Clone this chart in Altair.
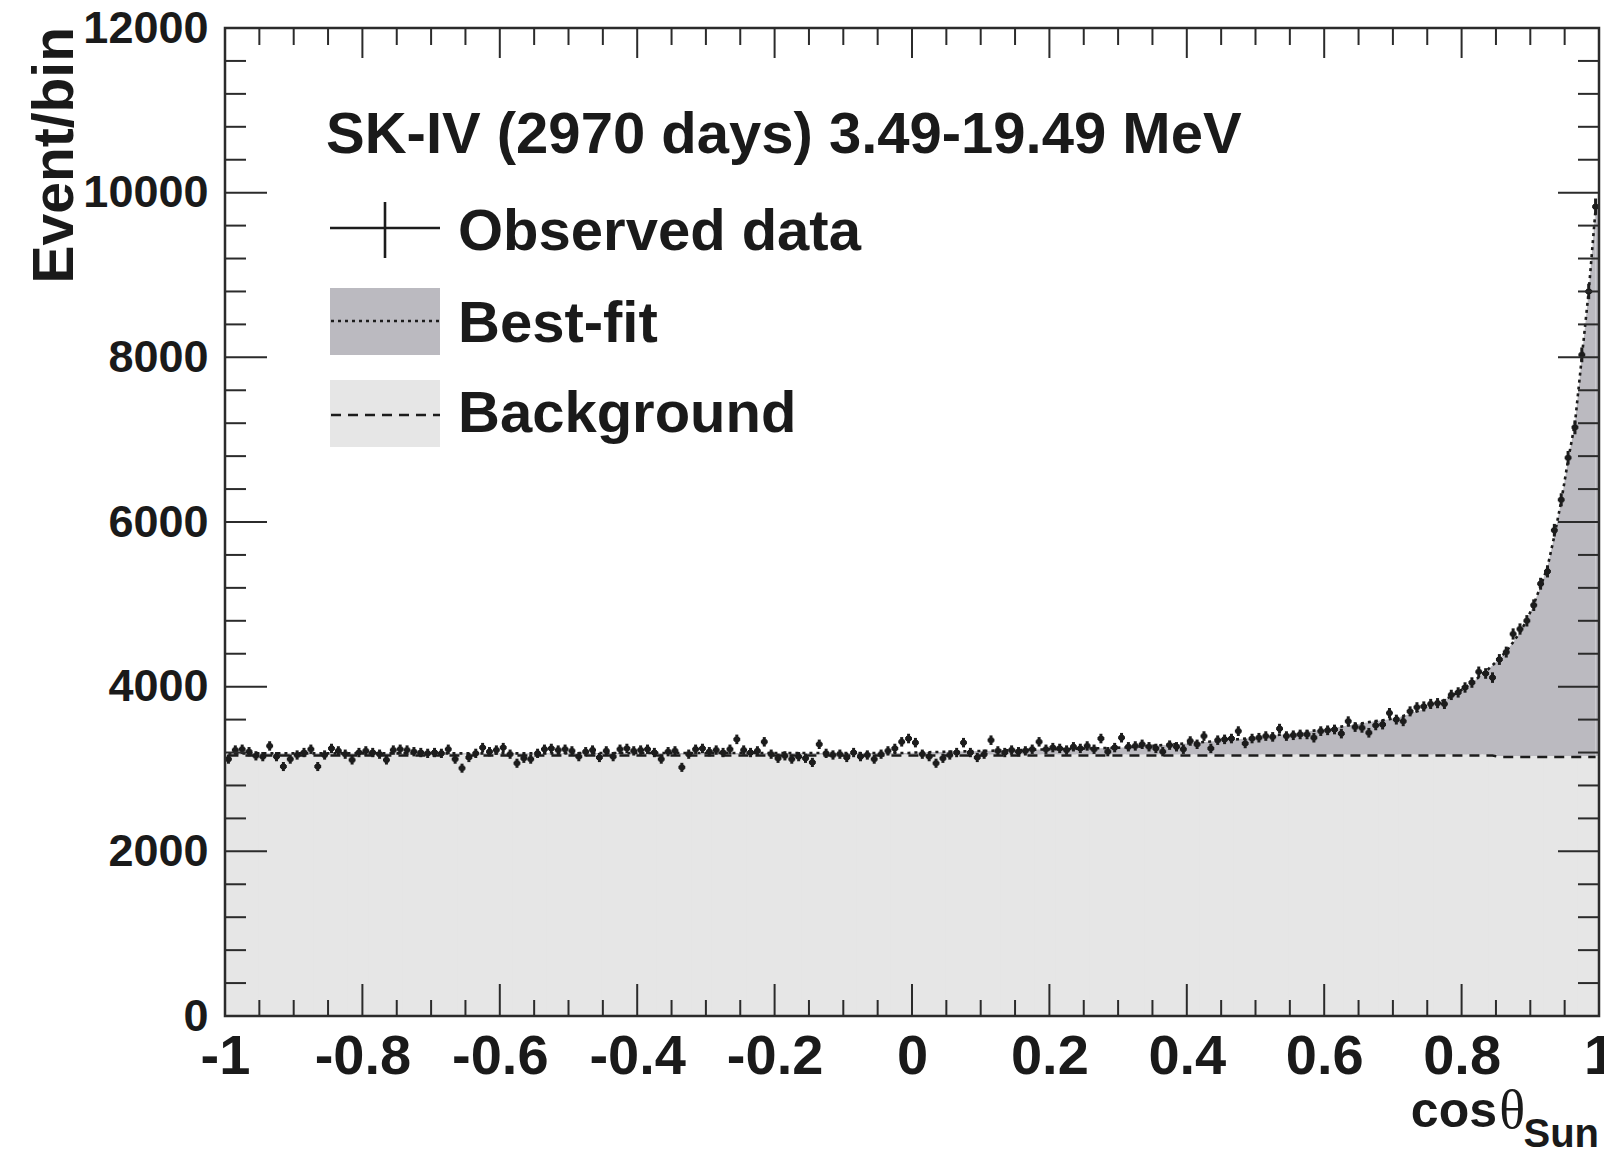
import altair as alt
import pandas as pd

# ---------------- data (200 bins of width 0.01) ----------------
observed = [
    3120, 3230, 3240, 3210, 3160, 3150, 3280, 3150, 3030, 3120,
    3170, 3200, 3240, 3030, 3170, 3250, 3220, 3180, 3110, 3200,
    3220, 3200, 3180, 3110, 3230, 3240, 3230, 3210, 3200, 3190,
    3200, 3190, 3240, 3120, 3010, 3140, 3190, 3260, 3210, 3230,
    3260, 3180, 3070, 3130, 3120, 3190, 3240, 3250, 3230, 3240,
    3220, 3150, 3210, 3230, 3140, 3220, 3150, 3240, 3250, 3220,
    3230, 3240, 3200, 3120, 3210, 3220, 3020, 3180, 3240, 3250,
    3210, 3230, 3200, 3240, 3360, 3230, 3200, 3220, 3330, 3180,
    3130, 3160, 3120, 3150, 3130, 3080, 3300, 3190, 3170, 3180,
    3140, 3200, 3150, 3170, 3120, 3180, 3220, 3250, 3330, 3370,
    3320, 3180, 3150, 3070, 3130, 3170, 3200, 3320, 3200, 3140,
    3180, 3350, 3220, 3200, 3230, 3210, 3220, 3240, 3330, 3240,
    3260, 3250, 3230, 3270, 3250, 3280, 3240, 3370, 3210, 3260,
    3380, 3270, 3280, 3300, 3270, 3250, 3210, 3290, 3270, 3240,
    3340, 3300, 3400, 3250, 3350, 3360, 3370, 3460, 3310, 3370,
    3380, 3400, 3390, 3490, 3400, 3410, 3420, 3420, 3380, 3460,
    3470, 3480, 3430, 3580, 3510, 3500, 3440, 3530, 3540, 3680,
    3600, 3580, 3700, 3750, 3760, 3790, 3800, 3790, 3900, 3930,
    3990, 4050, 4180, 4160, 4110, 4330, 4420, 4640, 4700, 4800,
    4990, 5250, 5400, 5900, 6270, 6780, 7150, 8030, 8800, 9830,
]

best_fit = (
    [3190] * 50
    + [3195] * 50
    + [3200, 3202, 3204, 3206, 3208, 3210, 3212, 3214, 3216, 3218,
       3220, 3222, 3224, 3226, 3228, 3230, 3232, 3234, 3236, 3238,
       3240, 3242, 3243, 3245, 3247, 3249, 3251, 3253, 3255, 3257,
       3260, 3265, 3270, 3275, 3280, 3285, 3290, 3296, 3302, 3308,
       3314, 3320, 3327, 3334, 3341, 3348, 3355, 3362, 3370, 3377,
       3385, 3395, 3405, 3415, 3425, 3435, 3445, 3455, 3466, 3478,
       3490, 3502, 3515, 3528, 3541, 3555, 3569, 3584, 3592, 3605,
       3620, 3645, 3670, 3700, 3730, 3765, 3800, 3840, 3885, 3935,
       3990, 4050, 4115, 4185, 4260, 4340, 4430, 4540, 4660, 4810,
       5000, 5220, 5450, 5830, 6250, 6750, 7200, 8000, 8800, 9800]
)

background = [3165] * 185 + [3145] * 15

x_major = [-1, -0.8, -0.6, -0.4, -0.2, 0, 0.2, 0.4, 0.6, 0.8, 1]
x_minor = [-0.95, -0.9, -0.85, -0.75, -0.7, -0.65, -0.55, -0.5, -0.45,
           -0.35, -0.3, -0.25, -0.15, -0.1, -0.05, 0.05, 0.1, 0.15,
           0.25, 0.3, 0.35, 0.45, 0.5, 0.55, 0.65, 0.7, 0.75, 0.85, 0.9, 0.95]
y_major = [0, 2000, 4000, 6000, 8000, 10000, 12000]
y_minor = [400, 800, 1200, 1600, 2400, 2800, 3200, 3600, 4400, 4800, 5200, 5600,
           6400, 6800, 7200, 7600, 8400, 8800, 9200, 9600, 10400, 10800, 11200, 11600]

header_text = "SK-IV (2970 days) 3.49-19.49 MeV"
legend_labels = ["Observed data", "Best-fit", "Background"]

# ---------------- table ----------------
n_bins = len(observed)
width_bin = 2.0 / n_bins
df = pd.DataFrame({
    "i": list(range(n_bins)),
    "lo": [-1 + k * width_bin for k in range(n_bins)],
    "hi": [-1 + (k + 1) * width_bin for k in range(n_bins)],
    "c": [-1 + (k + 0.5) * width_bin for k in range(n_bins)],
    "n": observed,
    "fit": best_fit,
    "bkg": background,
})

# ---------------- style ----------------
W, H = 1374, 988
FONT = "Liberation Sans"
INK = "#1c1c1c"
TXT = "#1a1a1a"
AX = "#2b2b2b"
DARK = "#bbbac0"
LIGHT = "#e6e6e6"

xs = alt.Scale(domain=[-1, 1], nice=False, zero=False)
ys = alt.Scale(domain=[0, 12000], nice=False, zero=True)
xaxis = alt.Axis(values=x_major, labelExpr="'' + datum.value", title=None,
                 domain=False, ticks=False, tickSize=0, grid=False,
                 labelFont=FONT, labelFontWeight="bold", labelFontSize=56,
                 labelColor=TXT, labelPadding=57, labelBaseline="alphabetic",
                 labelOverlap=False, labelBound=False, labelFlush=False)
yaxis = alt.Axis(values=y_major, labelExpr="'' + datum.value", title=None,
                 domain=False, ticks=False, tickSize=0, grid=False,
                 labelFont=FONT, labelFontWeight="bold", labelFontSize=45,
                 labelColor=TXT, labelPadding=17, labelOverlap=False,
                 labelBound=False, labelFlush=False)


def X(field, **kw):
    return alt.X(field, type="quantitative", scale=xs, axis=xaxis, **kw)


def Y(field, **kw):
    return alt.Y(field, type="quantitative", scale=ys, axis=yaxis, **kw)


base = alt.Chart(df)

dark_area = base.mark_area(color=DARK, opacity=1).encode(x=X("c"), y=Y("fit"))
dark_last = base.transform_filter(f"datum.i == {n_bins - 1}").mark_rect(
    color=DARK, opacity=1).encode(x=X("c"), x2="hi", y=Y("fit"), y2=alt.datum(0))
light_rect = base.mark_rect(color=LIGHT, stroke=LIGHT, strokeWidth=2, opacity=1).encode(
    x=X("lo"), x2="hi", y=Y("bkg"), y2=alt.datum(0))
bkg_line = base.mark_line(color=INK, strokeWidth=2.5, strokeDash=[10, 7]).encode(
    x=X("c"), y=Y("bkg"))
fit_line = base.mark_line(color=INK, strokeWidth=2.6, strokeDash=[3, 4]).encode(
    x=X("c"), y=Y("fit"))
err_v = base.transform_calculate(
    nlo="datum.n - sqrt(datum.n)", nhi="datum.n + sqrt(datum.n)"
).mark_rule(color=INK, strokeWidth=3).encode(x=X("c"), y=Y("nlo:Q"), y2="nhi:Q")
err_h = base.mark_rule(color=INK, strokeWidth=3).encode(x=X("lo"), x2="hi", y=Y("n"))
pts = base.mark_square(color=INK, size=26, opacity=1).encode(x=X("c"), y=Y("n"))

# ---------------- inward ticks (ROOT style, all four sides) ----------------
xM = alt.Chart(pd.DataFrame({"v": x_major}))
xm = alt.Chart(pd.DataFrame({"v": x_minor}))
yM = alt.Chart(pd.DataFrame({"v": y_major}))
ym = alt.Chart(pd.DataFrame({"v": y_minor}))
tick_kw = dict(color=AX, strokeWidth=2)
ticks = [
    xM.mark_rule(**tick_kw).encode(x=X("v"), y=alt.value(H), y2=alt.value(H - 32)),
    xm.mark_rule(**tick_kw).encode(x=X("v"), y=alt.value(H), y2=alt.value(H - 16)),
    xM.mark_rule(**tick_kw).encode(x=X("v"), y=alt.value(0), y2=alt.value(30)),
    xm.mark_rule(**tick_kw).encode(x=X("v"), y=alt.value(0), y2=alt.value(17)),
    yM.mark_rule(**tick_kw).encode(y=Y("v"), x=alt.value(0), x2=alt.value(42)),
    ym.mark_rule(**tick_kw).encode(y=Y("v"), x=alt.value(0), x2=alt.value(21)),
    yM.mark_rule(**tick_kw).encode(y=Y("v"), x=alt.value(W), x2=alt.value(W - 41)),
    ym.mark_rule(**tick_kw).encode(y=Y("v"), x=alt.value(W), x2=alt.value(W - 21)),
]

one = pd.DataFrame({"t": [""]})
frame = alt.Chart(one).mark_rect(fillOpacity=0, stroke=AX, strokeWidth=2.5).encode(
    x=alt.value(0), x2=alt.value(W), y=alt.value(0), y2=alt.value(H))


def txt(s, x, y, size, weight="bold", font=FONT, align="left", angle=0):
    return alt.Chart(pd.DataFrame({"t": [s]})).mark_text(
        font=font, fontSize=size, fontWeight=weight, color=TXT, align=align,
        baseline="alphabetic", angle=angle).encode(
        x=alt.value(x), y=alt.value(y), text="t:N")


texts = [
    txt("Event/bin", -152, -1, 57, align="right", angle=270),
    txt("cos", 1272, 1099, 50, align="right"),
    txt("θ", 1300, 1100, 54, weight="normal", font="Liberation Serif", align="right"),
    txt("Sun", 1374, 1119, 40, align="right"),
    txt(header_text, 101, 125, 58),
    txt(legend_labels[0], 233, 222, 58),
    txt(legend_labels[1], 233, 314, 58),
    txt(legend_labels[2], 233, 404, 58),
]

lg = alt.Chart(one)
legend = [
    lg.mark_rect(color=DARK, opacity=1).encode(x=alt.value(105), x2=alt.value(215),
                                               y=alt.value(260), y2=alt.value(327)),
    lg.mark_rect(color=LIGHT, opacity=1).encode(x=alt.value(105), x2=alt.value(215),
                                                y=alt.value(352), y2=alt.value(419)),
    lg.mark_rule(color=INK, strokeWidth=2.6, strokeDash=[3, 4]).encode(
        x=alt.value(106), x2=alt.value(215), y=alt.value(293)),
    lg.mark_rule(color=INK, strokeWidth=2.5, strokeDash=[10, 7]).encode(
        x=alt.value(106), x2=alt.value(215), y=alt.value(387)),
    lg.mark_rule(color=INK, strokeWidth=2.6).encode(
        x=alt.value(105), x2=alt.value(215), y=alt.value(200)),
    lg.mark_rule(color=INK, strokeWidth=2.6).encode(
        x=alt.value(160), y=alt.value(174), y2=alt.value(230)),
]

chart = alt.layer(
    dark_area, dark_last, light_rect, bkg_line, fit_line, err_v, err_h, pts,
    *ticks, frame, *legend, *texts
).properties(
    width=W, height=H,
    autosize=alt.AutoSizeParams(type="none"),
    padding={"left": 225, "top": 28, "right": 5, "bottom": 133},
    background="white",
).configure_view(strokeWidth=0)

chart.save("out.html", embed_options={"renderer": "svg", "actions": False})
